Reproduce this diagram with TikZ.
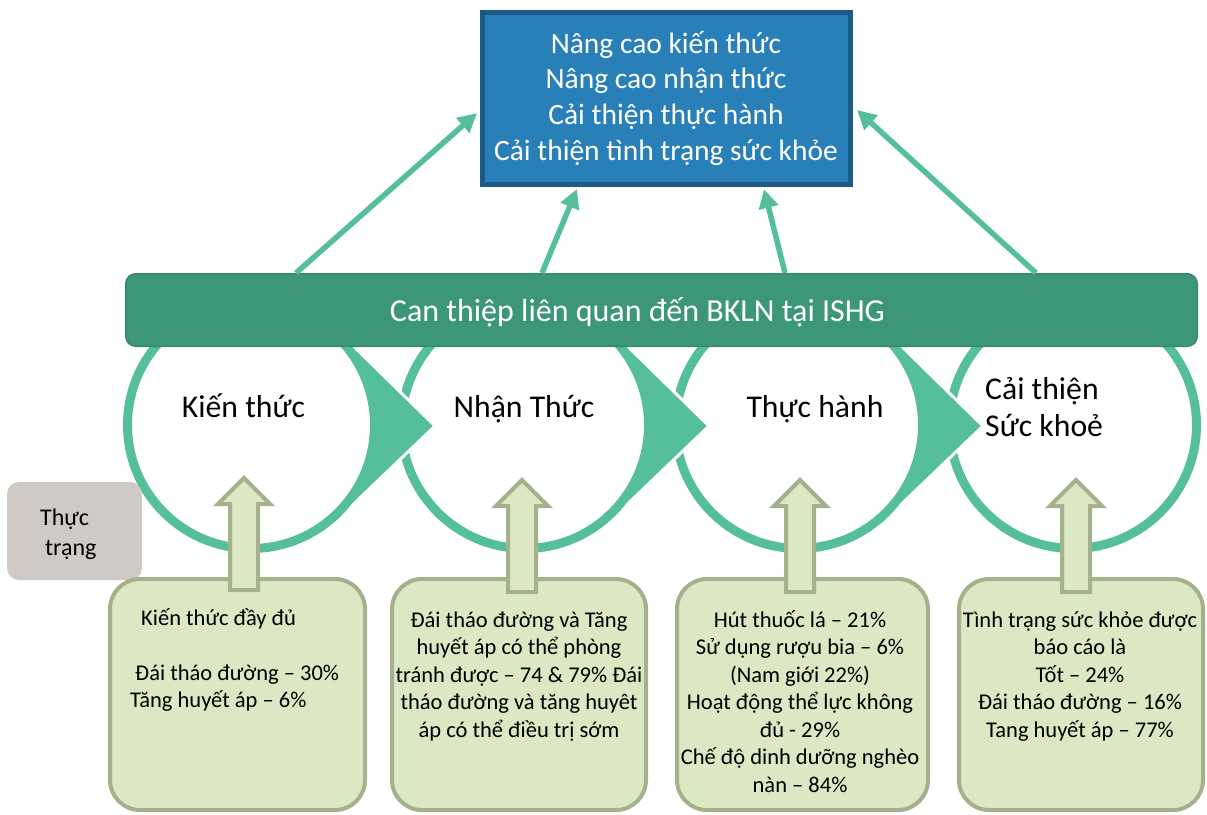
\documentclass[tikz,border=0pt]{standalone}
\usepackage{fontspec}
\setmainfont{Carlito}
\usetikzlibrary{arrows.meta,calc}
\definecolor{ringc}{RGB}{85,191,155}
\definecolor{barc}{RGB}{59,150,122}
\definecolor{barline}{RGB}{52,138,110}
\definecolor{goalc}{RGB}{41,128,185}
\definecolor{goalline}{RGB}{30,90,135}
\definecolor{boxc}{RGB}{219,232,195}
\definecolor{boxline}{RGB}{163,178,140}
\definecolor{grayc}{RGB}{208,202,198}
\newcommand\fsz[2]{\fontsize{#1}{#2}\selectfont}
\begin{document}
\begin{tikzpicture}[x=1pt,y=-1pt,
  ringnode/.style={circle,draw=ringc,line width=9pt,fill=white,minimum size=247pt,inner sep=0pt},
  pointer/.style={fill=ringc,draw=white,line width=3pt,line join=miter},
  barstyle/.style={rectangle,rounded corners=10pt,fill=barc,draw=barline,line width=1.5pt,
    minimum width=1071.5pt,minimum height=72.5pt,text=white,font=\fsz{32}{38},
    text height=22pt,text depth=0pt,inner sep=0pt},
  goalstyle/.style={rectangle,fill=goalc,draw=goalline,line width=5pt,minimum width=368pt,
    minimum height=172pt,text=white,align=center,font=\fsz{29.5}{35.7},inner sep=0pt},
  ctext/.style={font=\fsz{31.7}{37},inner sep=0pt,text=black},
  sbox/.style={rectangle,rounded corners=30pt,fill=boxc,draw=boxline,line width=4pt},
  stext/.style={font=\fsz{22.5}{27.5},inner sep=0pt,anchor=north,align=center},
  graybox/.style={rectangle,rounded corners=12pt,fill=grayc,minimum width=135pt,minimum height=98pt},
  uparrstyle/.style={fill=boxc,draw=boxline,line width=4pt,line join=miter},
  uparr/.pic={\path[uparrstyle] (0,0) -- (26,26) -- (14,26) -- (14,112) -- (-14,112) -- (-14,26) -- (-26,26) -- cycle;},
  link/.style={draw=ringc,line width=5.5pt,-{Triangle[length=19pt,width=19pt]}}
]
\useasboundingbox (0,0) rectangle (1207,814);

% circle centres
\coordinate (p1) at (251,425);
\coordinate (p2) at (525,425);
\coordinate (p3) at (799,425);
\coordinate (p4) at (1073,425);

% circles and pointers
\node[ringnode] (c4) at (p4) {};
\path[pointer] ($(p3)+(184,1)$) -- ($(p3)+(89,-92)$) -- (p3) -- ($(p3)+(89,92)$) -- cycle;
\node[ringnode] (c3) at (p3) {};
\path[pointer] ($(p2)+(184,1)$) -- ($(p2)+(89,-92)$) -- (p2) -- ($(p2)+(89,92)$) -- cycle;
\node[ringnode] (c2) at (p2) {};
\path[pointer] ($(p1)+(184,1)$) -- ($(p1)+(89,-92)$) -- (p1) -- ($(p1)+(89,92)$) -- cycle;
\node[ringnode] (c1) at (p1) {};

% goal box
\node[goalstyle] (goal) at (666,98) {\rule{0pt}{1em}Nâng cao kiến thức\\Nâng cao nhận thức\\Cải thiện thực hành\\Cải thiện tình trạng sức khỏe\rule[-0.41em]{0pt}{0.41em}};

% bar
\node[barstyle] (bar) at (661.5,310) {Can thiệp liên quan đến BKLN tại ISHG\hspace*{48pt}};

% links
\draw[link] ($(bar.north west)+(171,0)$) -- ($(goal.west)+(-2.5,15)$);
\draw[link] ($(bar.north west)+(417,0)$) -- ($(goal.south)+(-89,2.5)$);
\draw[link] ($(bar.north west)+(660,0)$) -- ($(goal.south)+(98,2.5)$);
\draw[link] ($(bar.north west)+(911,0)$) -- ($(goal.east)+(4.5,12)$);

% circle texts
\node[ctext,anchor=base] (k1) at (243.5,417) {Kiến thức};
\node[ctext,anchor=base] (k2) at (524,417) {Nhận Thức};
\node[ctext,anchor=base] (k3) at (815,417) {Thực hành};
\node[ctext,anchor=north west,align=left] (k4) at (985,368) {\rule{0pt}{1em}Cải thiện\\Sức khoẻ};

% status box
\node[graybox] (st) at (74.5,531) {};
\node[font=\fsz{24}{30},inner sep=0pt,anchor=north west,align=left] (stt) at (40,501) {\rule{0pt}{1em}Thực\\\hspace*{5pt}trạng};

% bottom boxes
\node[sbox,minimum width=255pt,minimum height=231pt] (b1) at (237.5,694.5) {};
\node[sbox,minimum width=254pt,minimum height=231pt] (b2) at (519,694.5) {};
\node[sbox,minimum width=251pt,minimum height=231pt] (b3) at (802.5,694.5) {};
\node[sbox,minimum width=244pt,minimum height=231pt] (b4) at (1081,694.5) {};

\node[stext,anchor=north west,align=left] (t1) at (130,602.5) {\rule{0pt}{1em}\hspace*{11pt}Kiến thức đầy đủ\\[27.5pt]\hspace*{5pt}Đái tháo đường – 30\%\\Tăng huyết áp – 6\%};
\node[stext] (t2) at (519,604.5) {\rule{0pt}{1em}Đái tháo đường và Tăng\\huyết áp có thể phòng\\tránh được – 74 \& 79\% Đái\\tháo đường và tăng huyêt\\áp có thể điều trị sớm};
\node[stext] (t3) at (800,604.5) {\rule{0pt}{1em}Hút thuốc lá – 21\%\\Sử dụng rượu bia – 6\%\\(Nam giới 22\%)\\Hoạt động thể lực không\\đủ - 29\%\\Chế độ dinh dưỡng nghèo\\nàn – 84\%};
\node[stext] (t4) at (1080,604.5) {\rule{0pt}{1em}Tình trạng sức khỏe được\\báo cáo là\\Tốt – 24\%\\Đái tháo đường – 16\%\\Tang huyết áp – 77\%};

% block arrows
\pic at (244,478) {uparr};
\pic at (522,480) {uparr};
\pic at (800,480) {uparr};
\pic at (1076,480) {uparr};
\end{tikzpicture}
\end{document}
